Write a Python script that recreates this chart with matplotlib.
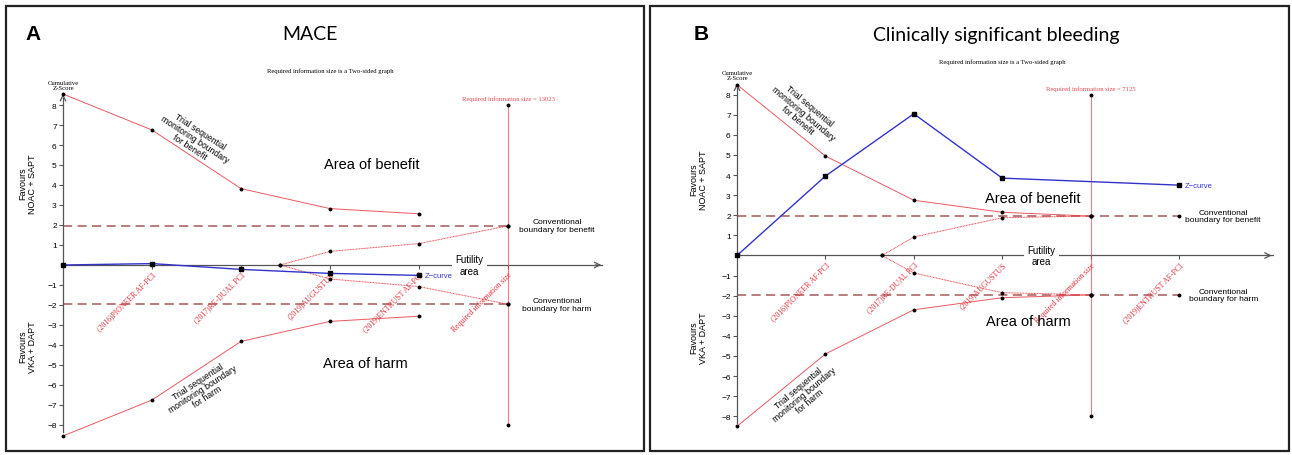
import matplotlib.pyplot as plt
from matplotlib.patches import Rectangle

W, H = 1292, 456

# ---- panel A : MACE ----
trials_a = ['(2016)PIONEER AF-PCI', '(2017)RE-DUAL PCI', '(2019)AUGUSTUS', '(2019)ENTRUST AF-PCI']
trial_x_a = [1, 2, 3, 4]
ris_x_a = 5
ris_a = 13023
z_x_a = [0, 1, 2, 3, 4]
z_a = [0, 0.07, -0.22, -0.42, -0.52]
bound_x_a = [0, 1, 2, 3, 4]
upper_a = [8.55, 6.75, 3.82, 2.82, 2.56]
lower_a = [-8.55, -6.75, -3.82, -2.82, -2.56]
inner_x_a = [2.44, 3, 4, 5]
inner_up_a = [0, 0.68, 1.07, 1.96]
inner_lo_a = [0, -0.70, -1.08, -1.96]
conv_end_a = 5

# ---- panel B : clinically significant bleeding ----
trials_b = ['(2016)PIONEER AF-PCI', '(2017)RE-DUAL PCI', '(2019)AUGUSTUS', '(2019)ENTRUST AF-PCI']
trial_x_b = [1, 2, 3, 5]
ris_x_b = 4
ris_b = 7125
z_x_b = [0, 1, 2, 3, 5]
z_b = [0, 3.95, 7.05, 3.85, 3.5]
bound_x_b = [0, 1, 2, 3, 4]
upper_b = [8.5, 4.95, 2.75, 2.15, 1.96]
lower_b = [-8.5, -4.9, -2.7, -2.1, -1.96]
inner_x_b = [1.64, 2, 3, 4]
inner_up_b = [0, 0.92, 1.88, 1.96]
inner_lo_b = [0, -0.87, -1.85, -1.96]
conv_end_b = 5

RED = '#e8474f'
LABRED = '#e0303a'
BROWN = '#a65a5a'
BLUE = '#3333cc'
SANS = 'Liberation Sans'
SERIF = 'Liberation Serif'

fig = plt.figure(figsize=(W / 100, H / 100), dpi=100)


def px(x, y):
    return x / W, 1 - y / H


def make_axes(x0, y0, sx, sy, xlim, ylim):
    left = x0 + xlim[0] * sx
    right = x0 + xlim[1] * sx
    bottom = y0 - ylim[0] * sy
    top = y0 - ylim[1] * sy
    ax = fig.add_axes([left / W, 1 - bottom / H, (right - left) / W, (bottom - top) / H])
    ax.set_xlim(*xlim)
    ax.set_ylim(*ylim)
    ax.patch.set_alpha(0)
    return ax


def panel(ax, trials, trial_x, ris_x, ris, z_x, z, bx, up, lo, ix, iup, ilo, conv_end, txt):
    for s in ['top', 'right']:
        ax.spines[s].set_visible(False)
    ax.spines['left'].set_position(('data', 0))
    ax.spines['left'].set_bounds(-8.35, 8.35)
    ax.spines['bottom'].set_position(('data', 0))
    ax.spines['bottom'].set_bounds(0, 6.06)
    for s in ['left', 'bottom']:
        ax.spines[s].set_color('#555555')
        ax.spines[s].set_linewidth(0.9)
    ax.set_yticks([8, 7, 6, 5, 4, 3, 2, 1, -1, -2, -3, -4, -5, -6, -7, -8])
    ax.set_yticklabels(['8', '7', '6', '5', '4', '3', '2', '1', '−1', '−2', '−3', '−4',
                        '−5', '−6', '−7', '−8'], fontsize=6, family=SANS)
    ax.tick_params(axis='y', length=3, width=0.8, color='#555555', pad=1.5)
    ticks_x = sorted(trial_x + [ris_x])
    ax.set_xticks(ticks_x)
    ax.set_xticklabels([])
    ax.tick_params(axis='x', length=3, width=0.8, color='#555555', direction='out')

    # arrow heads
    ax.annotate('', xy=(6.08, 0), xytext=(5.95, 0),
                arrowprops=dict(arrowstyle='->', color='#555555', lw=0.9, mutation_scale=10),
                annotation_clip=False)
    ax.annotate('', xy=(0, 8.55), xytext=(0, 8.3),
                arrowprops=dict(arrowstyle='->', color='#555555', lw=0.9, mutation_scale=10),
                annotation_clip=False)
    ax.text(0, 8.75, 'Cumulative\nZ-Score', fontsize=4.8, family=SERIF, ha='center',
            va='bottom', linespacing=1.0)

    # conventional boundaries
    for yv in (1.96, -1.96):
        ax.plot([0, conv_end], [yv, yv], color=BROWN, lw=1.1, dashes=(6, 3.5), zorder=2)
        ax.plot([conv_end], [yv], 'o', color='black', ms=1.8, zorder=4)
        if ris_x < conv_end:
            ax.plot([ris_x], [yv], 'o', color='black', ms=1.8, zorder=4)

    # monitoring boundaries
    for yy in (up, lo):
        ax.plot(bx, yy, color=RED, lw=0.7, alpha=0.9, zorder=3)
        ax.plot(bx, yy, 'o', color='black', ms=1.8, zorder=4)
    for yy in (iup, ilo):
        ax.plot(ix, yy, color=RED, lw=0.7, ls=(0, (1, 0.6)), zorder=3)
        ax.plot(ix, yy, 'o', color='black', ms=1.8, zorder=4)

    # required information size
    ax.plot([ris_x, ris_x], [-8, 8], color=RED, lw=0.8, alpha=0.7, zorder=3)
    ax.plot([ris_x, ris_x], [-8, 8], 'o', color='black', ms=1.8, zorder=4)
    ax.text(ris_x, 8.2, 'Required information size = %d' % ris, color=RED, fontsize=4.8,
            family=SERIF, ha='center', va='bottom')

    # z-curve
    ax.plot(z_x, z, color=BLUE, lw=1.0, zorder=5)
    ax.plot(z_x, z, 's', color='black', ms=2.6, zorder=6)
    ax.text(z_x[-1] + 0.06, z[-1], 'Z−curve', color=BLUE, fontsize=5.5, family=SANS,
            ha='left', va='center', zorder=8)

    # trial labels
    for lab, xv in zip(trials + ['Required information size'], trial_x + [ris_x]):
        ax.text(xv, -0.25, lab, color=LABRED, fontsize=5.6, family=SERIF, rotation=45,
                rotation_mode='anchor', ha='right', va='top')

    ax.text(txt['fut'][0], txt['fut'][1], 'Futility\narea', fontsize=7, family=SANS,
            ha='center', va='center', linespacing=1.15, zorder=7,
            bbox=dict(facecolor='white', edgecolor='none', pad=2.5))
    ax.text(*txt['ben'], 'Area of benefit', fontsize=10.5, family=SANS, ha='center', va='center')
    ax.text(*txt['harm'], 'Area of harm', fontsize=10.5, family=SANS, ha='center', va='center')
    ax.text(txt['conv_x'], 1.96, 'Conventional\nboundary for benefit', fontsize=6, family=SANS,
            ha='center', va='center', linespacing=1.15)
    ax.text(txt['conv_x'], -1.96, 'Conventional\nboundary for harm', fontsize=6, family=SANS,
            ha='center', va='center', linespacing=1.15)
    ax.text(*txt['tsb'], 'Trial sequential\nmonitoring boundary\nfor benefit', fontsize=6.2,
            family=SANS, ha='center', va='center', rotation=-txt['rot'], linespacing=1.0)
    ax.text(*txt['tsh'], 'Trial sequential\nmonitoring boundary\nfor harm', fontsize=6.2,
            family=SANS, ha='center', va='center', rotation=txt['rot'], linespacing=1.0)
    ax.text(txt['fav_x'], txt['fav_up'], 'Favours\nNOAC + SAPT', fontsize=6.5, family=SANS,
            ha='center', va='center', rotation=90, linespacing=1.1)
    ax.text(txt['fav_x'], txt['fav_lo'], 'Favours\nVKA + DAPT', fontsize=6.5, family=SANS,
            ha='center', va='center', rotation=90, linespacing=1.1)


ax_a = make_axes(63, 266, 89, 20, (-0.5, 6.3), (-9.0, 9.5))
panel(ax_a, trials_a, trial_x_a, ris_x_a, ris_a, z_x_a, z_a, bound_x_a, upper_a, lower_a,
      inner_x_a, inner_up_a, inner_lo_a, conv_end_a,
      dict(fut=(4.57, 0), ben=(3.47, 5.05), harm=(3.4, -4.9), conv_x=5.55,
           tsb=(1.48, 6.3), tsh=(1.57, -6.2), rot=33, fav_x=-0.4, fav_up=4.1, fav_lo=-4.05))

ax_b = make_axes(737, 256.5, 88.4, 20.1, (-0.5, 6.3), (-9.0, 9.5))
panel(ax_b, trials_b, trial_x_b, ris_x_b, ris_b, z_x_b, z_b, bound_x_b, upper_b, lower_b,
      inner_x_b, inner_up_b, inner_lo_b, conv_end_b,
      dict(fut=(3.44, 0), ben=(3.35, 2.86), harm=(3.3, -3.25), conv_x=5.5,
           tsb=(0.75, 7.1), tsh=(0.76, -6.9), rot=40, fav_x=-0.43, fav_up=3.8, fav_lo=-4.05))

# titles, panel letters, subtitles
fig.text(*px(25, 35), 'A', fontsize=15, fontweight='bold', family=SANS, ha='left', va='center')
fig.text(*px(310, 35), 'MACE', fontsize=14, family='Lato', ha='center', va='center')
fig.text(*px(330, 71), 'Required information size is a Two-sided graph', fontsize=4.8,
         family=SERIF, ha='center', va='center')
fig.text(*px(694, 35), 'B', fontsize=15, fontweight='bold', family=SANS, ha='left', va='center')
fig.text(*px(996, 35), 'Clinically significant bleeding', fontsize=14, family='Lato',
         ha='center', va='center')
fig.text(*px(1002, 62), 'Required information size is a Two-sided graph', fontsize=4.8,
         family=SERIF, ha='center', va='center')

# panel frames
for x0, x1 in ((6, 644), (650, 1289)):
    fig.patches.append(Rectangle(px(x0, 452), (x1 - x0) / W, (452 - 7) / H,
                                 transform=fig.transFigure, fill=False, lw=1.6,
                                 edgecolor='#222222'))

fig.savefig('out.png', dpi=100)
